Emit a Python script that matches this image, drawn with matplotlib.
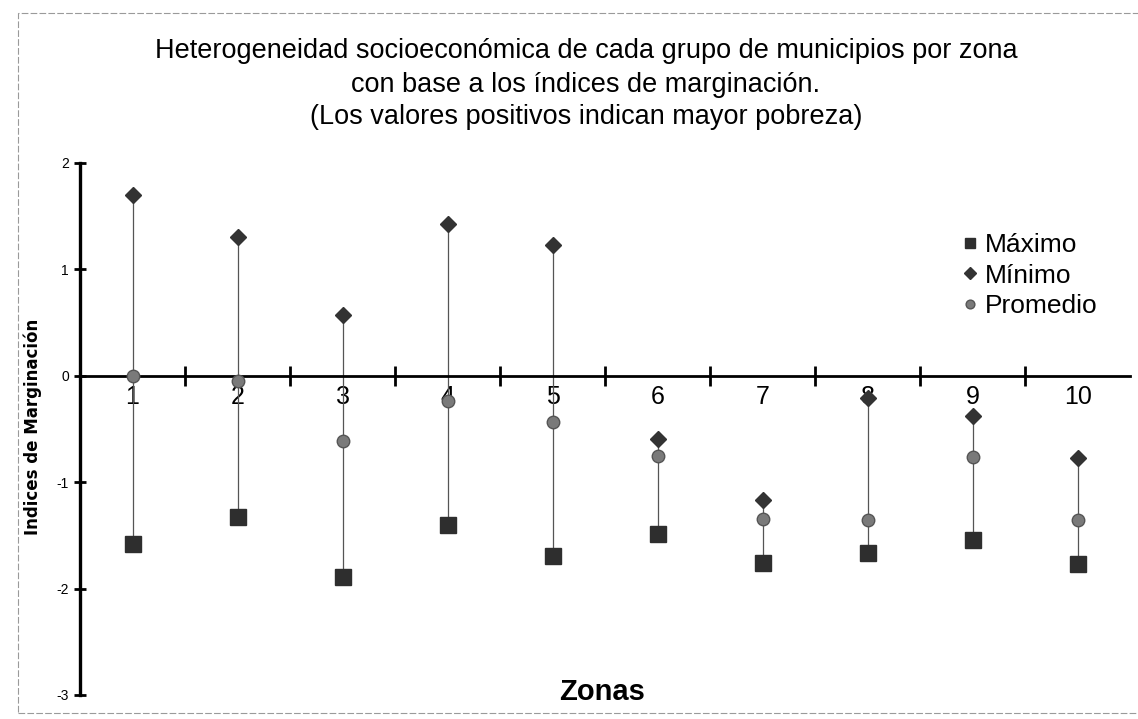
"""Heterogeneidad socioeconomica por zona: maximo, minimo y promedio"""

import matplotlib
matplotlib.use("Agg")
import matplotlib.pyplot as plt
from matplotlib.patches import Rectangle

zonas = [1, 2, 3, 4, 5, 6, 7, 8, 9, 10]
zona_labels = ["1", "2", "3", "4", "5", "6", "7", "8", "9", "10"]
maximo = [-1.58, -1.33, -1.89, -1.40, -1.69, -1.49, -1.76, -1.67, -1.54, -1.77]
minimo = [1.70, 1.30, 0.57, 1.43, 1.23, -0.59, -1.17, -0.21, -0.38, -0.77]
promedio = [0.00, -0.05, -0.61, -0.24, -0.43, -0.75, -1.35, -1.36, -0.76, -1.36]
y_ticks = [-3, -2, -1, 0, 1, 2]
titulo = ["Heterogeneidad socioeconómica de cada grupo de municipios por zona",
          "con base a los índices de marginación.",
          "(Los valores positivos indican mayor pobreza)"]

plt.rcParams["font.family"] = ["Liberation Sans", "DejaVu Sans"]

W, H = 1138, 719
fig = plt.figure(figsize=(W / 100, H / 100), dpi=100)
ax = fig.add_axes([0.0703, 0.0334, 0.923, 0.74])

# lineas entre minimo y maximo
ax.vlines(zonas, maximo, minimo, color="#555555", lw=0.9, zorder=2)

ax.plot(zonas, maximo, ls="none", marker="s", ms=11, color="#2e2e2e",
        label="Máximo", zorder=4, clip_on=False)
ax.plot(zonas, minimo, ls="none", marker="D", ms=8.5, color="#333333",
        label="Mínimo", zorder=4, clip_on=False)
ax.plot(zonas, promedio, ls="none", marker="o", ms=9, color="#7a7a7a",
        mec="#555555", mew=1, label="Promedio", zorder=5, clip_on=False)

ax.set_xlim(0.5, 10.5)
ax.set_ylim(-3, 2)

# ejes estilo excel
ax.spines["top"].set_visible(False)
ax.spines["right"].set_visible(False)
ax.spines["left"].set_linewidth(2.4)
ax.spines["bottom"].set_position(("data", 0))
ax.spines["bottom"].set_linewidth(2.0)

ax.set_yticks(y_ticks)
ax.set_yticklabels([str(v) for v in y_ticks], fontsize=10)
ax.tick_params(axis="y", direction="inout", length=8, width=2, pad=4)

# marcas entre zonas, etiquetas en cada zona
ax.set_xticks([z + 0.5 for z in zonas[:-1]])
ax.set_xticklabels([])
ax.tick_params(axis="x", which="major", direction="inout", length=15, width=2)
ax.set_xticks(zonas, minor=True)
ax.set_xticklabels(zona_labels, minor=True, fontsize=18)
ax.tick_params(axis="x", which="minor", length=0, pad=7)

ax.set_ylabel("Indices de Marginación", fontsize=12, fontweight="bold",
              family="DejaVu Sans")
ax.yaxis.set_label_coords(-0.036, 0.504)

fig.text(602 / W, 1 - 700 / H, "Zonas", fontsize=21, fontweight="bold",
         ha="center", va="baseline")

for txt, base in zip(titulo, [58, 92, 124]):
    fig.text(586 / W, 1 - base / H, txt, fontsize=19.5, ha="center", va="baseline")

fig.legend(loc="upper left", bbox_to_anchor=(0.845, 0.676), frameon=False,
           fontsize=19, handlelength=0.6, handletextpad=0.3, labelspacing=0.25,
           markerscale=0.7, borderaxespad=0, borderpad=0)

# marco del grafico
fig.patches.append(Rectangle((18 / W, 1 - 713 / H), 1.2, 700 / H,
                             transform=fig.transFigure, fill=False,
                             ec="#9a9a9a", lw=0.8, ls=(0, (6, 2))))

plt.savefig("out.png", dpi=100)
